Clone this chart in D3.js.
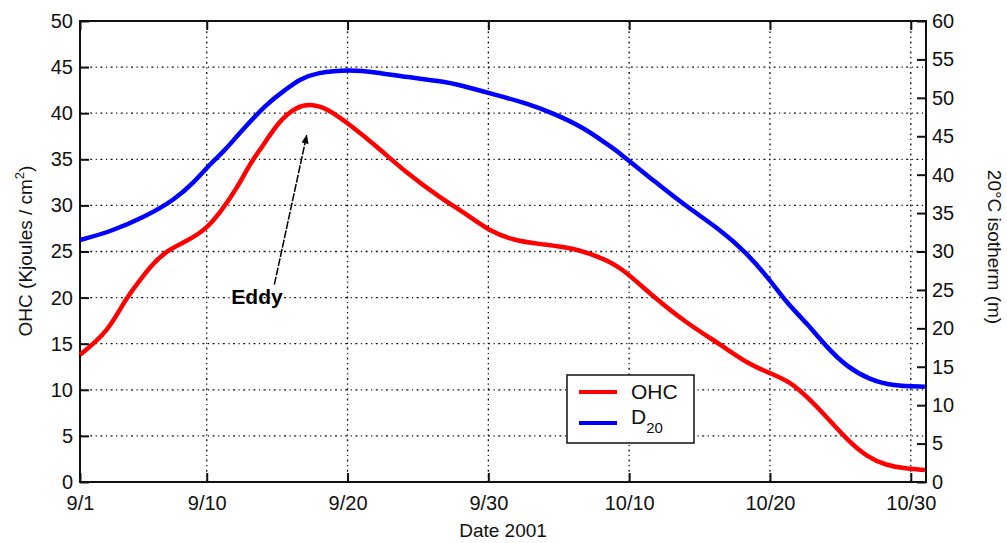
<!DOCTYPE html>
<html><head><meta charset="utf-8">
<script src="https://cdn.jsdelivr.net/npm/d3@7"></script>
<style>body{margin:0;background:#fff}svg{display:block}text{font-family:"Liberation Sans",Arial,sans-serif}</style>
</head><body><svg id="c" width="1007" height="543"></svg>
<script>
const xTickDays = [0, 9, 19, 29, 39, 49, 59];
const xTickLabels = ["9/1", "9/10", "9/20", "9/30", "10/10", "10/20", "10/30"];
const leftTicks = [0,5,10,15,20,25,30,35,40,45,50];
const rightTicks = [0,5,10,15,20,25,30,35,40,45,50,55,60];

const ohcDays = [0,1.99,3.17,4.12,5.04,6.25,7.67,8.86,10.0,11.2,12.1,12.78,14.2,15.4,16.3,17.5,19.2,21.07,23.2,25.6,27.5,29.1,30.8,32.7,35.0,36.9,38.35,40.7,43.1,45.5,47.35,49.0,50.4,51.6,53.0,54.45,55.9,57.3,58.45,60.0];
const ohcVals = [13.8,16.3,19.7,21.6,23.5,25.2,26.2,27.3,29.3,32,34.6,36,39.3,40.7,41.0,40.6,38.7,36.4,33.5,30.8,29,27.2,26.2,25.8,25.4,24.4,23.4,20.1,17.2,14.9,12.9,11.8,10.9,9.3,7.1,4.6,2.7,1.8,1.5,1.3];

const d20Days = [0,2.2,4.6,6.7,8.15,9.3,10.3,10.9,13.26,14.7,15.6,16.8,19.2,21.07,23.2,26.04,27.9,29.1,31.7,33.6,35.7,37.4,38.35,39.5,40.7,43.1,45.5,47.35,49.0,50.2,51.6,53.0,54.45,56.1,57.7,60.0];
const d20Vals = [31.5,32.6,34.5,36.7,39.1,41.5,43.2,44.5,49.3,51.2,52.4,53.3,53.7,53.3,52.7,52.1,51.2,50.6,49.3,48,46.2,44.0,42.8,41.0,39.3,35.8,32.8,29.8,26.3,23.3,20.7,17.6,15,13.3,12.5,12.4];

const L = 80, R = 926, T = 21, B = 482;
const svg = d3.select("#c");
const x = d3.scaleLinear().domain([0, 60.08]).range([L, R]);
const yL = d3.scaleLinear().domain([0, 50]).range([B, T]);
const yR = d3.scaleLinear().domain([0, 60]).range([B, T]);

const grid = svg.append("g").attr("stroke", "#111").attr("stroke-width", 1.3).attr("stroke-dasharray", "2,3.5,1.2,3.5");
grid.selectAll(".h").data(leftTicks.slice(1, -1)).join("line")
  .attr("x1", L).attr("x2", R).attr("y1", d => yL(d)).attr("y2", d => yL(d));
grid.selectAll(".v").data(xTickDays.slice(1)).join("line")
  .attr("y1", T).attr("y2", B).attr("x1", d => x(d)).attr("x2", d => x(d));

const fontSize = 20;
const gl = svg.append("g").attr("transform", `translate(${L},0)`)
  .call(d3.axisLeft(yL).tickValues(leftTicks).tickSizeInner(-9).tickSizeOuter(0).tickPadding(16));
const gr = svg.append("g").attr("transform", `translate(${R},0)`)
  .call(d3.axisRight(yR).tickValues(rightTicks).tickSizeInner(-9).tickSizeOuter(0).tickPadding(16));
const gb = svg.append("g").attr("transform", `translate(0,${B})`)
  .call(d3.axisBottom(x).tickValues(xTickDays).tickFormat((d, i) => xTickLabels[i]).tickSizeInner(-9).tickSizeOuter(0).tickPadding(14));
const gt = svg.append("g").attr("transform", `translate(0,${T})`)
  .call(d3.axisTop(x).tickValues(xTickDays).tickFormat("").tickSizeInner(-9).tickSizeOuter(0));
[gl, gr, gb, gt].forEach(g => {
  g.select(".domain").remove();
  g.selectAll(".tick line").attr("stroke", "#111").attr("stroke-width", 2);
  g.selectAll("text").attr("font-size", fontSize).attr("fill", "#111").attr("font-family", "Liberation Sans, Arial, sans-serif");
});
gl.selectAll("text").attr("x", -7);
gr.selectAll("text").attr("x", 6).attr("text-anchor", "start");

svg.append("rect").attr("x", L).attr("y", T).attr("width", R - L).attr("height", B - T)
  .attr("fill", "none").attr("stroke", "#111").attr("stroke-width", 2);

const ohcLine = d3.line().x(d => x(d[0])).y(d => yL(d[1])).curve(d3.curveBasis);
const d20Line = d3.line().x(d => x(d[0])).y(d => yR(d[1])).curve(d3.curveBasis);
svg.append("path").datum(d20Days.map((d, i) => [d, d20Vals[i]])).attr("d", d20Line)
  .attr("fill", "none").attr("stroke", "#0000ff").attr("stroke-width", 4.5);
svg.append("path").datum(ohcDays.map((d, i) => [d, ohcVals[i]])).attr("d", ohcLine)
  .attr("fill", "none").attr("stroke", "#ff0000").attr("stroke-width", 4.5);

svg.append("defs").append("marker").attr("id", "ah").attr("viewBox", "0 0 10 10")
  .attr("refX", 9).attr("refY", 5).attr("markerWidth", 9).attr("markerHeight", 9)
  .attr("markerUnits", "userSpaceOnUse").attr("orient", "auto")
  .append("path").attr("d", "M0,1 L10,5 L0,9 Z").attr("fill", "#000");
svg.append("line").attr("x1", x(13.8)).attr("y1", yL(21.4)).attr("x2", x(16.1)).attr("y2", yL(37.6))
  .attr("stroke", "#000").attr("stroke-width", 1.5).attr("stroke-dasharray", "8,1.5").attr("marker-end", "url(#ah)");
svg.append("text").attr("x", 257).attr("y", 304).attr("text-anchor", "middle")
  .attr("font-size", 21).attr("font-weight", "bold").attr("fill", "#000").text("Eddy");

const lg = svg.append("g");
lg.append("rect").attr("x", 567).attr("y", 375).attr("width", 127).attr("height", 68)
  .attr("fill", "#fff").attr("stroke", "#111").attr("stroke-width", 1.5);
lg.append("line").attr("x1", 579).attr("x2", 617).attr("y1", 392).attr("y2", 392).attr("stroke", "#ff0000").attr("stroke-width", 4);
lg.append("line").attr("x1", 579).attr("x2", 617).attr("y1", 423).attr("y2", 423).attr("stroke", "#0000ff").attr("stroke-width", 4);
lg.append("text").attr("x", 631).attr("y", 399).attr("font-size", 21).attr("fill", "#111").text("OHC");
const dt = lg.append("text").attr("x", 631).attr("y", 424).attr("font-size", 21).attr("fill", "#111");
dt.append("tspan").text("D");
dt.append("tspan").attr("font-size", 15).attr("dy", 9).text("20");

svg.append("text").attr("transform", "translate(32,251) rotate(-90)").attr("text-anchor", "middle")
  .attr("font-size", 19).attr("fill", "#111")
  .call(t => { t.append("tspan").text("OHC (Kjoules / cm"); t.append("tspan").attr("font-size", 13).attr("dy", -8).text("2"); t.append("tspan").attr("dy", 8).text(")"); });
svg.append("text").attr("transform", "translate(988,247) rotate(90)").attr("text-anchor", "middle")
  .attr("font-size", 19).attr("fill", "#111").text("20°C isotherm (m)");
svg.append("text").attr("x", 503).attr("y", 537).attr("text-anchor", "middle")
  .attr("font-size", 19).attr("fill", "#111").text("Date 2001");
</script></body></html>
